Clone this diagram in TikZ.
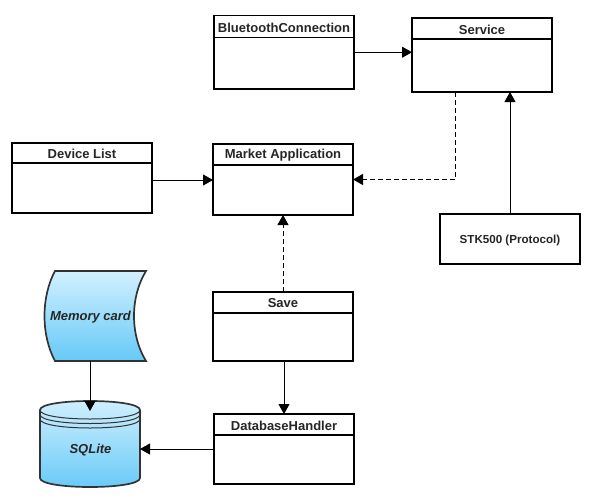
\documentclass[tikz,border=0pt]{standalone}
\usepackage{fontspec}
\setmainfont{Liberation Sans}
\usetikzlibrary{arrows.meta,shadings}
\definecolor{fillA}{HTML}{D2F0FF}
\definecolor{fillB}{HTML}{66C9F7}
\definecolor{edgeC}{HTML}{333333}
\tikzset{
  umlbox/.style={draw=black,line width=1.8pt,fill=white,inner sep=0pt,outer sep=0pt,anchor=north west},
  title/.style={font=\bfseries\fontsize{13}{15}\selectfont,text=black!85,inner sep=0pt,anchor=center},
  conn/.style={draw=black,line width=0.9pt,-{Triangle[length=10pt,width=11pt]}},
  dconn/.style={conn,dash pattern=on 5pt off 3pt},
  store/.style={draw=edgeC,line width=1.7pt,top color=fillA,bottom color=fillB},
  storetext/.style={font=\bfseries\itshape\fontsize{13}{15}\selectfont,text=black!85,inner sep=0pt}
}
\newcommand{\umlclass}[7]{% name, x, y, w, h, header height, title
  \node[umlbox,minimum width=#4pt,minimum height=#5pt] (#1) at (#2,#3) {};
  \draw[black,line width=1.8pt] (#2,#3+#6) -- ++(#4,0);
  \node[title] (#1t) at (#2+#4/2,#3+#6/2+1) {#7};
}
\begin{document}
\begin{tikzpicture}[x=1pt,y=-1pt]
\useasboundingbox (0,0) rectangle (596,498);
\umlclass{bt}{214}{15.5}{140}{73.5}{22}{BluetoothConnection}
\umlclass{svc}{412}{18}{140}{74}{21}{Service}
\umlclass{dev}{12}{143}{140}{70}{20}{Device List}
\umlclass{mkt}{213}{144}{140}{71}{21}{Market Application}
\umlclass{sav}{213}{292}{140}{69}{21}{Save}
\umlclass{dbh}{214}{414}{140}{70}{21}{DatabaseHandler}
\node[umlbox,minimum width=140pt,minimum height=50pt] (stk) at (440,214) {};
\node[font=\bfseries\fontsize{11.6}{14}\selectfont,text=black!85,inner sep=0pt] (stkt) at (510,240.5) {STK500 (Protocol)};
% memory card
\path[store] (55,271) -- (146,271) .. controls (130,297) and (130,335) .. (146,361) -- (55,361) .. controls (41,335) and (41,297) .. (55,271) -- cycle;
\node[storetext] (mem) at (90.5,317) {Memory card};
\coordinate (memb) at (90,361);
% cylinder
\path[store] (40,410) .. controls (40,398) and (140,398) .. (140,410) -- (140,478) .. controls (140,490) and (40,490) .. (40,478) -- cycle;
\draw[edgeC,line width=1pt] (40,410) .. controls (40,422) and (140,422) .. (140,410);
\draw[edgeC,line width=1pt] (40,414.5) .. controls (40,426.5) and (140,426.5) .. (140,414.5);
\draw[edgeC,line width=1pt] (40,419) .. controls (40,431) and (140,431) .. (140,419);
\node[storetext] (sql) at (90.5,450) {SQLite};
\coordinate (sqlt) at (90,411);
\coordinate (sqle) at (140,449);
% connectors
\draw[conn] (bt.east) -- (bt.east -| svc.west);
\draw[conn] (dev.east) ++(0,2) -- (mkt.west |- 0,180);
\coordinate (dstart) at (455,92);
\draw[dconn] (dstart) -- (dstart |- mkt.east) -- (mkt.east);
\draw[conn] (stk.north) -- (stk.north |- svc.south);
\draw[dconn] (sav.north) -- (mkt.south);
\draw[conn] (sav.south) ++(1,0) -- (284,414);
\draw[conn] (dbh.west |- sqle) -- (sqle);
\draw[conn] (memb) -- (sqlt);
\end{tikzpicture}
\end{document}
